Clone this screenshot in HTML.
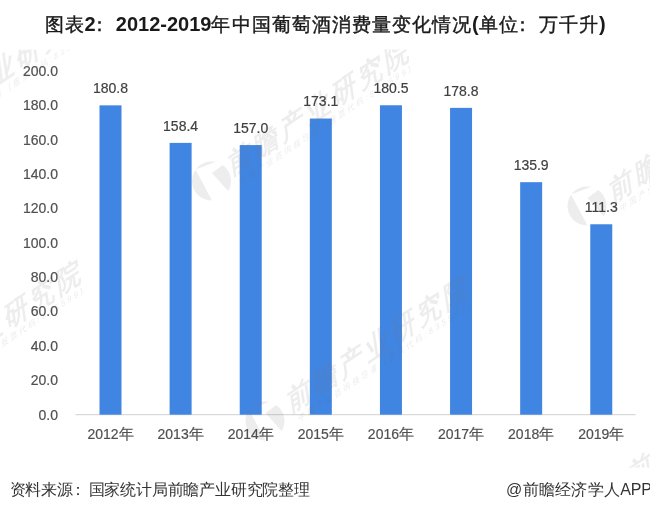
<!DOCTYPE html>
<html><head><meta charset="utf-8"><style>
html,body{margin:0;padding:0;background:#fff;}
body{width:650px;height:515px;position:relative;overflow:hidden;font-family:"Liberation Sans",sans-serif;}
svg{position:absolute;left:0;top:0;}
.dl,.yl,.xl{font-family:"Liberation Sans",sans-serif;font-size:14px;fill:#404040;stroke:#404040;stroke-width:0.2px}
.yl,.xl{fill:#505050;stroke:#505050}
.ny{font-size:15px;}
.wmt{font-family:"Liberation Sans",sans-serif;font-size:27px;font-weight:bold;fill:#7a7a7a;letter-spacing:4.5px}
.wms{font-family:"Liberation Sans",sans-serif;font-size:8px;fill:#6a6a6a;letter-spacing:3.2px}
.title{position:absolute;left:44.5px;top:9px;white-space:nowrap;color:#1a1a1a;line-height:30px;}
.title .c{font-size:19px;font-weight:normal;-webkit-text-stroke:0.4px #1a1a1a;letter-spacing:1.05px}
.title .l{font-size:20px;font-weight:bold;}
.title .col{position:relative;left:-5.5px;}
.foot{font-family:"Liberation Sans",sans-serif;font-size:16px;fill:#333;letter-spacing:-0.2px}
</style></head><body>
<svg width="650" height="515" viewBox="0 0 650 515">
<defs><mask id="lm" maskUnits="userSpaceOnUse" x="-30" y="-30" width="60" height="60"><rect x="-30" y="-30" width="60" height="60" fill="#fff"/>
<path d="M-16,-11.5 L5,-19.5 L12,-25 L16,-19.5 L0.5,-8 L22,16 L5,28 Z" fill="#000"/></mask></defs>
<line x1="75.5" y1="414.7" x2="635.5" y2="414.7" stroke="#d9d9d9" stroke-width="1.2"/>
<rect x="99.50" y="105.35" width="22" height="309.35" fill="#4185e2"/><rect x="169.61" y="142.88" width="22" height="271.82" fill="#4185e2"/><rect x="239.72" y="145.07" width="22" height="269.63" fill="#4185e2"/><rect x="309.83" y="118.53" width="22" height="296.17" fill="#4185e2"/><rect x="379.94" y="105.26" width="22" height="309.44" fill="#4185e2"/><rect x="450.05" y="107.87" width="22" height="306.83" fill="#4185e2"/><rect x="520.16" y="182.18" width="22" height="232.52" fill="#4185e2"/><rect x="590.27" y="224.27" width="22" height="190.43" fill="#4185e2"/>
<g opacity="0.135"><g transform="translate(211.5,181.0)"><circle cx="0" cy="0" r="19.5" fill="#7a7a7a" mask="url(#lm)"/></g>
<g transform="translate(231,176) rotate(-33.5) skewX(-25)">
<text x="0" y="0" class="wmt">前瞻产业研究院</text>
<text x="8" y="12" class="wms">中国产业咨询领导者 (股票代码:835599)</text>
</g><g transform="translate(265.0,421.0)"><circle cx="0" cy="0" r="19.5" fill="#7a7a7a" mask="url(#lm)"/></g>
<g transform="translate(290,413) rotate(-33.5) skewX(-25)">
<text x="0" y="0" class="wmt">前瞻产业研究院</text>
<text x="8" y="12" class="wms">中国产业咨询领导者 (股票代码:835599)</text>
</g><g transform="translate(-118.0,401.0)"><circle cx="0" cy="0" r="19.5" fill="#7a7a7a" mask="url(#lm)"/></g>
<g transform="translate(-97,398) rotate(-33.5) skewX(-25)">
<text x="0" y="0" class="wmt">前瞻产业研究院</text>
<text x="8" y="12" class="wms">中国产业咨询领导者 (股票代码:835599)</text>
</g><g transform="translate(-103.0,135.0)"><circle cx="0" cy="0" r="19.5" fill="#7a7a7a" mask="url(#lm)"/></g>
<g transform="translate(-85,138) rotate(-33.5) skewX(-25)">
<text x="0" y="0" class="wmt">前瞻产业研究院</text>
<text x="8" y="12" class="wms">中国产业咨询领导者 (股票代码:835599)</text>
</g><g transform="translate(587.0,206.0)"><circle cx="0" cy="0" r="19.5" fill="#7a7a7a" mask="url(#lm)"/></g>
<g transform="translate(612,203) rotate(-33.5) skewX(-25)">
<text x="0" y="0" class="wmt">前瞻产业研究院</text>
<text x="8" y="12" class="wms">中国产业咨询领导者 (股票代码:835599)</text>
</g><g transform="translate(610.0,491.0)"><circle cx="0" cy="0" r="19.5" fill="#7a7a7a" mask="url(#lm)"/></g>
<g transform="translate(631,487) rotate(-33.5) skewX(-25)">
<text x="0" y="0" class="wmt">前瞻产业研究院</text>
<text x="8" y="12" class="wms">中国产业咨询领导者 (股票代码:835599)</text>
</g></g>
<rect x="0" y="0" width="650" height="49.5" fill="#fff"/><rect x="0" y="467.5" width="650" height="48" fill="#fff"/>
<text x="110.50" y="93.05" text-anchor="middle" class="dl">180.8</text><text x="180.61" y="130.58" text-anchor="middle" class="dl">158.4</text><text x="250.72" y="132.77" text-anchor="middle" class="dl">157.0</text><text x="320.83" y="106.23" text-anchor="middle" class="dl">173.1</text><text x="390.94" y="92.96" text-anchor="middle" class="dl">180.5</text><text x="461.05" y="95.57" text-anchor="middle" class="dl">178.8</text><text x="531.16" y="169.88" text-anchor="middle" class="dl">135.9</text><text x="601.27" y="211.97" text-anchor="middle" class="dl">111.3</text>
<text x="58" y="419.50" text-anchor="end" class="yl">0.0</text><text x="58" y="385.16" text-anchor="end" class="yl">20.0</text><text x="58" y="350.82" text-anchor="end" class="yl">40.0</text><text x="58" y="316.48" text-anchor="end" class="yl">60.0</text><text x="58" y="282.14" text-anchor="end" class="yl">80.0</text><text x="58" y="247.80" text-anchor="end" class="yl">100.0</text><text x="58" y="213.46" text-anchor="end" class="yl">120.0</text><text x="58" y="179.12" text-anchor="end" class="yl">140.0</text><text x="58" y="144.78" text-anchor="end" class="yl">160.0</text><text x="58" y="110.44" text-anchor="end" class="yl">180.0</text><text x="58" y="76.10" text-anchor="end" class="yl">200.0</text>
<text x="110.50" y="439" text-anchor="middle" class="xl">2012<tspan class="ny">年</tspan></text><text x="180.61" y="439" text-anchor="middle" class="xl">2013<tspan class="ny">年</tspan></text><text x="250.72" y="439" text-anchor="middle" class="xl">2014<tspan class="ny">年</tspan></text><text x="320.83" y="439" text-anchor="middle" class="xl">2015<tspan class="ny">年</tspan></text><text x="390.94" y="439" text-anchor="middle" class="xl">2016<tspan class="ny">年</tspan></text><text x="461.05" y="439" text-anchor="middle" class="xl">2017<tspan class="ny">年</tspan></text><text x="531.16" y="439" text-anchor="middle" class="xl">2018<tspan class="ny">年</tspan></text><text x="601.27" y="439" text-anchor="middle" class="xl">2019<tspan class="ny">年</tspan></text>
<text x="9.6" y="495" class="foot">资料来源<tspan dx="-3">：</tspan><tspan dx="3">国家统计局前瞻产业研究院整理</tspan></text>
<text x="506" y="495" class="foot"><tspan style="letter-spacing:0.3px">@前瞻经济学人</tspan>APP</text>
</svg>
<div class="title"><span class="c">图表</span><span class="l">2</span><span class="c col">：</span><span class="l">2012-2019</span><span class="c">年中国葡萄酒消费量变化情况</span><span class="l">(</span><span class="c">单位</span><span class="c col">：</span><span class="c">万千升</span><span class="l">)</span></div>
</body></html>
